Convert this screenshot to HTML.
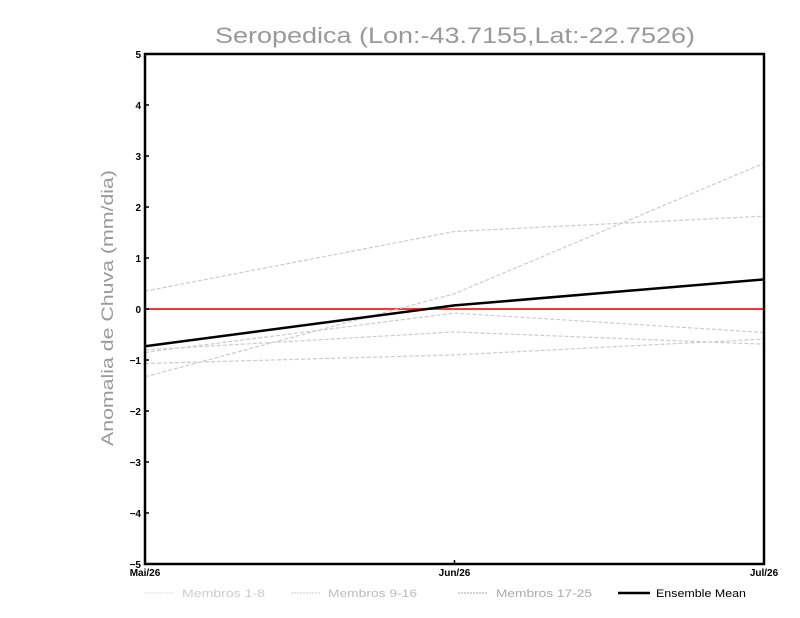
<!DOCTYPE html>
<html><head><meta charset="utf-8"><style>
body{margin:0;background:#fff;}
svg{display:block;font-family:"Liberation Sans",sans-serif;}
</style></head><body>
<svg id="chart" width="800" height="618">
<text x="215" y="43" textLength="480" lengthAdjust="spacingAndGlyphs" font-size="22" fill="#999">Seropedica (Lon:-43.7155,Lat:-22.7526)</text>
<text transform="translate(113,446) rotate(-90)" textLength="276" lengthAdjust="spacingAndGlyphs" font-size="17" fill="#999">Anomalia de Chuva (mm/dia)</text>
<g id="plot"></g>
<g id="legend" font-size="11">
 <g><line x1="145" y1="593" x2="174" y2="593" stroke="#ddd" stroke-dasharray="2,1"/><text x="182" y="597" textLength="83" lengthAdjust="spacingAndGlyphs" fill="#ccc">Membros 1-8</text></g>
 <g><line x1="291" y1="593" x2="320" y2="593" stroke="#ccc" stroke-dasharray="2,1"/><text x="328" y="597" textLength="89" lengthAdjust="spacingAndGlyphs" fill="#bbb">Membros 9-16</text></g>
 <g><line x1="458" y1="593" x2="488" y2="593" stroke="#aaa" stroke-dasharray="2,1"/><text x="496" y="597" textLength="96" lengthAdjust="spacingAndGlyphs" fill="#aaa">Membros 17-25</text></g>
 <g><line x1="618" y1="593" x2="650" y2="593" stroke="#000" stroke-width="2.5"/><text x="656" y="597" textLength="90" lengthAdjust="spacingAndGlyphs" fill="#000">Ensemble Mean</text></g>
</g>
</svg>
<script>
const categories = ["Mai/26","Jun/26","Jul/26"];
const yTicks = [-5,-4,-3,-2,-1,0,1,2,3,4,5];
const member1 = [0.35, 1.52, 1.82];
const member2 = [-1.33, 0.3, 2.86];
const member3 = [-1.07, -0.9, -0.59];
const member4 = [-0.8, -0.45, -0.69];
const member5 = [-0.85, -0.08, -0.46];
const ensembleMean = [-0.73, 0.07, 0.58];

const NS="http://www.w3.org/2000/svg";
const L=145,R=764,T=54,B=564;
const xs=i=>L+(R-L)*i/(categories.length-1);
const ys=v=>T+(5-v)/10*(B-T);
const g=document.getElementById('plot');
function mk(t,a){const e=document.createElementNS(NS,t);for(const k in a)e.setAttribute(k,a[k]);g.appendChild(e);return e;}
const z=mk('line',{x1:L,x2:R,y1:ys(0),y2:ys(0),stroke:'#f33','stroke-width':2});


[member1,member2,member3,member4,member5].forEach((s,k)=>{
 const p=mk('polyline',{points:s.map((v,i)=>xs(i)+','+ys(v)).join(' '),fill:'none',stroke:'#ccc','stroke-width':1.2,'stroke-dasharray':'4,2'});
 
 
});
const m=mk('polyline',{points:ensembleMean.map((v,i)=>xs(i)+','+ys(v)).join(' '),fill:'none',stroke:'#000','stroke-width':2.5});


const fr=mk('rect',{x:L,y:T,width:R-L,height:B-T,fill:'none',stroke:'#000','stroke-width':2.5});


yTicks.forEach(v=>{
 mk('line',{x1:L,x2:L+4,y1:ys(v),y2:ys(v),stroke:'#000','stroke-width':1.5});
 const t=mk('text',{x:L-4,y:ys(v)+4,'text-anchor':'end','font-size':10,'font-weight':'bold'});
 t.textContent=String(v).replace('-','\u2212');
 
 
});
categories.forEach((c,i)=>{
 mk('line',{x1:xs(i),x2:xs(i),y1:B,y2:B-4,stroke:'#000','stroke-width':1.5});
 const t=mk('text',{x:xs(i),y:B+12,'text-anchor':'middle','font-size':10,'font-weight':'bold'});
 t.textContent=c;
 
 
});
</script>
</body></html>
